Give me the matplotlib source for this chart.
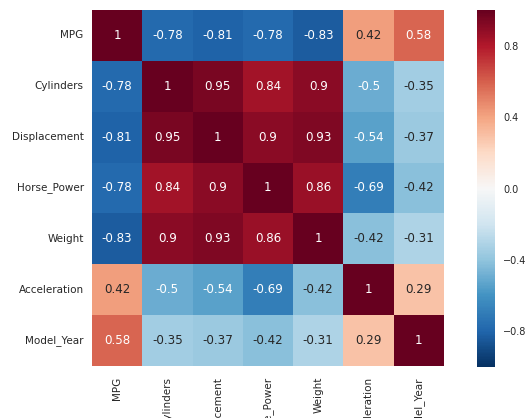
# Heatmap of correlations between car attributes
import numpy as np
import pandas as pd
import matplotlib
matplotlib.use("Agg")
import matplotlib.pyplot as plt
import seaborn as sns

columns = ['MPG', 'Cylinders', 'Displacement', 'Horse_Power', 'Weight',
           'Acceleration', 'Model_Year']

mpg = [1, -0.78, -0.81, -0.78, -0.83, 0.42, 0.58]
cylinders = [-0.78, 1, 0.95, 0.84, 0.9, -0.5, -0.35]
displacement = [-0.81, 0.95, 1, 0.9, 0.93, -0.54, -0.37]
horse_power = [-0.78, 0.84, 0.9, 1, 0.86, -0.69, -0.42]
weight = [-0.83, 0.9, 0.93, 0.86, 1, -0.42, -0.31]
acceleration = [0.42, -0.5, -0.54, -0.69, -0.42, 1, 0.29]
model_year = [0.58, -0.35, -0.37, -0.42, -0.31, 0.29, 1]

corr = pd.DataFrame([mpg, cylinders, displacement, horse_power, weight,
                     acceleration, model_year], index=columns, columns=columns)

sns.set_style('white')
plt.rcParams['text.color'] = '.15'
plt.rcParams['xtick.color'] = '.15'
plt.rcParams['ytick.color'] = '.15'

fig = plt.figure(figsize=(5.3, 4.18), dpi=100)
ax = fig.add_axes([0.1736, 0.1244, 0.664, 0.8517])
cax = fig.add_axes([0.9, 0.122, 0.034, 0.854])

sns.heatmap(corr, annot=True, cmap='RdBu_r', vmin=-1, vmax=1,
            annot_kws={'fontsize': 8.6}, ax=ax, cbar_ax=cax,
            cbar_kws={'ticks': [-0.8, -0.4, 0.0, 0.4, 0.8]})

ax.set_xticklabels(columns, rotation=90, fontsize=7.5)
ax.set_yticklabels(columns, rotation=0, fontsize=7.5)
ax.tick_params(axis='x', length=0, pad=8)
ax.tick_params(axis='y', length=0, pad=6)
cax.tick_params(length=0, labelsize=7, pad=6)

fig.savefig('out.png', dpi=100)
